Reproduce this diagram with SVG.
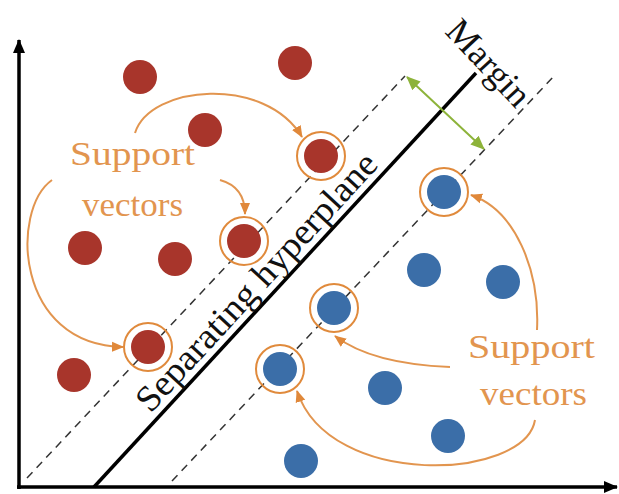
<svg xmlns="http://www.w3.org/2000/svg" width="619" height="494" viewBox="0 0 619 494">
<style>
.red{fill:#a8352b}
.blue{fill:#3b6ea8}
.ring{fill:none;stroke:#e08a3c;stroke-width:2}
.dash{stroke:#333;stroke-width:1.5;stroke-dasharray:8 6;fill:none}
.curve{fill:none;stroke:#e2954f;stroke-width:2}
.lbl{font-family:"Liberation Serif","Times New Roman",serif;font-size:34px;fill:#e2954f}
.blk{font-family:"Liberation Serif","Times New Roman",serif;font-size:36px;fill:#111}
</style>
<defs>
<marker id="oa" markerUnits="userSpaceOnUse" markerWidth="12" markerHeight="12" refX="11" refY="6" orient="auto">
<path d="M0,1 L12,6 L0,11 Z" fill="#e0883a"/>
</marker>
<marker id="ga" markerUnits="userSpaceOnUse" markerWidth="14" markerHeight="12" refX="13" refY="6" orient="auto-start-reverse">
<path d="M0,0 L14,6 L0,12 Z" fill="#8db33a"/>
</marker>
<marker id="ka" markerUnits="userSpaceOnUse" markerWidth="14" markerHeight="14" refX="13" refY="7" orient="auto">
<path d="M0,1 L14,7 L0,13 Z" fill="#000"/>
</marker>
</defs>
<rect width="619" height="494" fill="#fff"/>
<g id="connectors">
<line class="dash" x1="27" y1="478" x2="405" y2="76"/>
<line class="dash" x1="172" y1="481" x2="555" y2="75"/>
<line x1="94" y1="487" x2="476" y2="73" stroke="#000" stroke-width="3.5"/>
<line x1="19" y1="489" x2="19" y2="40" stroke="#000" stroke-width="3.5" marker-end="url(#ka)"/>
<line x1="17" y1="487" x2="617" y2="487" stroke="#000" stroke-width="3.5" marker-end="url(#ka)"/>
<line x1="407" y1="77" x2="484" y2="149" stroke="#8db33a" stroke-width="2" marker-start="url(#ga)" marker-end="url(#ga)"/>
<path class="curve" d="M135,133 C150,85 265,75 302,137" marker-end="url(#oa)"/>
<path class="curve" d="M220,180 C238,185 245,198 245,214" marker-end="url(#oa)"/>
<path class="curve" d="M52,180 C10,210 15,345 123,347" marker-end="url(#oa)"/>
<path class="curve" d="M537,330 C540,270 515,210 471,195" marker-end="url(#oa)"/>
<path class="curve" d="M450,367 C400,365 360,355 335,336" marker-end="url(#oa)"/>
<path class="curve" d="M535,420 C525,480 330,490 297,391" marker-end="url(#oa)"/>
</g>
<g id="red-points">
<circle class="red" cx="140" cy="77" r="17"/>
<circle class="red" cx="295" cy="63" r="17"/>
<circle class="red" cx="205" cy="130" r="17"/>
<circle class="red" cx="85" cy="248" r="17"/>
<circle class="red" cx="175" cy="259" r="17"/>
<circle class="red" cx="74" cy="375" r="17"/>
</g>
<g id="red-support-1"><circle class="ring" cx="321" cy="156" r="24"/><circle class="red" cx="321" cy="156" r="17"/></g>
<g id="red-support-2"><circle class="ring" cx="244" cy="241" r="24"/><circle class="red" cx="244" cy="241" r="17"/></g>
<g id="red-support-3"><circle class="ring" cx="148" cy="347" r="24"/><circle class="red" cx="148" cy="347" r="17"/></g>
<g id="blue-points">
<circle class="blue" cx="424" cy="270" r="17"/>
<circle class="blue" cx="503" cy="282" r="17"/>
<circle class="blue" cx="385" cy="388" r="17"/>
<circle class="blue" cx="448" cy="436" r="17"/>
<circle class="blue" cx="301" cy="461" r="17"/>
</g>
<g id="blue-support-1"><circle class="ring" cx="444" cy="192" r="24"/><circle class="blue" cx="444" cy="192" r="17"/></g>
<g id="blue-support-2"><circle class="ring" cx="334" cy="308" r="24"/><circle class="blue" cx="334" cy="308" r="17"/></g>
<g id="blue-support-3"><circle class="ring" cx="280" cy="369" r="24"/><circle class="blue" cx="280" cy="369" r="17"/></g>
<g id="label-support-left">
<text class="lbl" x="70" y="165" textLength="125" lengthAdjust="spacingAndGlyphs">Support</text>
<text class="lbl" x="82" y="216" textLength="101" lengthAdjust="spacingAndGlyphs">vectors</text>
</g>
<g id="label-support-right">
<text class="lbl" x="468" y="358" textLength="127" lengthAdjust="spacingAndGlyphs">Support</text>
<text class="lbl" x="480" y="405" textLength="107" lengthAdjust="spacingAndGlyphs">vectors</text>
</g>
<g id="label-hyperplane">
<text class="blk" transform="translate(150.5,414) rotate(-47.3)" x="0" y="0" textLength="338" lengthAdjust="spacingAndGlyphs">Separating hyperplane</text>
</g>
<g id="label-margin">
<text class="blk" font-size="34" text-anchor="middle" transform="translate(480,71) rotate(47)" x="0" y="0">Margin</text>
</g>
</svg>
